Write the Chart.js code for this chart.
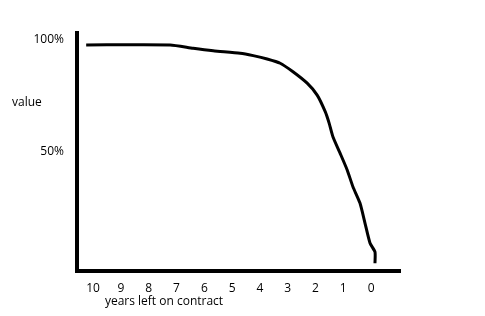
<!DOCTYPE html>
<html>
<head>
<meta charset="utf-8">
<script src="https://cdn.jsdelivr.net/npm/chart.js@4"></script>
<style>
  html, body { margin: 0; padding: 0; background: #fff; }
  #wrap { width: 485px; height: 316px; }
</style>
</head>
<body>
<div id="wrap"><canvas id="contractChart"></canvas></div>
<script>
// values
const yearsLeft = [10.25, 7.23, 6.4, 5.68, 4.71, 4.24, 3.74, 3.27, 2.81, 2.3, 1.94, 1.65, 1.51, 1.37, 1.12, 0.86, 0.65, 0.4, 0.22, 0.04, -0.14, -0.14];
const valuePct = [97.8, 97.8, 96.3, 95.2, 94.1, 93.0, 91.5, 89.6, 85.8, 80.7, 75.4, 68.0, 62.9, 56.7, 49.6, 42.0, 34.4, 27.2, 18.3, 9.4, 5.4, 0.4];
const yearTicks = [10, 9, 8, 7, 6, 5, 4, 3, 2, 1, 0];
const valueTicks = [50, 100];
const valueTickLabels = ["50%", "100%"];

const FONT = { family: "Open Sans", size: 12 };

// hand-placed axis titles ("value" is written horizontally in the sketch)
const axisTitles = {
  id: "axisTitles",
  afterDraw(chart) {
    const { ctx, scales } = chart;
    ctx.save();
    ctx.font = `${FONT.size}px "${FONT.family}"`;
    ctx.fillStyle = "#000";
    ctx.textBaseline = "middle";
    ctx.textAlign = "left";
    ctx.fillText("value", 12, scales.y.getPixelForValue(72));
    ctx.textAlign = "center";
    ctx.fillText("years left on contract", scales.x.getPixelForValue(7.45), scales.x.bottom - 14);
    ctx.restore();
  }
};

const points = yearsLeft.map((x, i) => ({ x, y: valuePct[i] }));

new Chart(document.getElementById("contractChart"), {
  type: "line",
  data: {
    datasets: [{
      data: points,
      borderColor: "#000",
      borderWidth: 3,
      pointRadius: 0,
      tension: 0.2,
      fill: false
    }]
  },
  options: {
    responsive: true,
    maintainAspectRatio: false,
    animation: false,
    layout: { padding: { top: 33, right: 85, left: 0, bottom: 0 } },
    plugins: { legend: { display: false }, tooltip: { enabled: false } },
    scales: {
      x: {
        type: "linear",
        reverse: true,
        min: -1.04,
        max: 10.58,
        afterBuildTicks: (s) => { s.ticks = yearTicks.map(v => ({ value: v })); },
        afterFit: (s) => { s.height = 45; },
        grid: { display: false, drawTicks: false },
        border: { display: true, color: "#000", width: 4 },
        ticks: { color: "#000", font: FONT, padding: 10, callback: (v) => v }
      },
      y: {
        min: -3.1,
        max: 103.1,
        afterBuildTicks: (s) => { s.ticks = valueTicks.map(v => ({ value: v })); },
        afterFit: (s) => { s.width = 77; },
        grid: { display: false, drawTicks: false },
        border: { display: true, color: "#000", width: 4 },
        ticks: {
          color: "#000",
          font: FONT,
          padding: 13,
          callback: (v) => valueTickLabels[valueTicks.indexOf(v)]
        }
      }
    }
  },
  plugins: [axisTitles]
});
</script>
</body>
</html>
